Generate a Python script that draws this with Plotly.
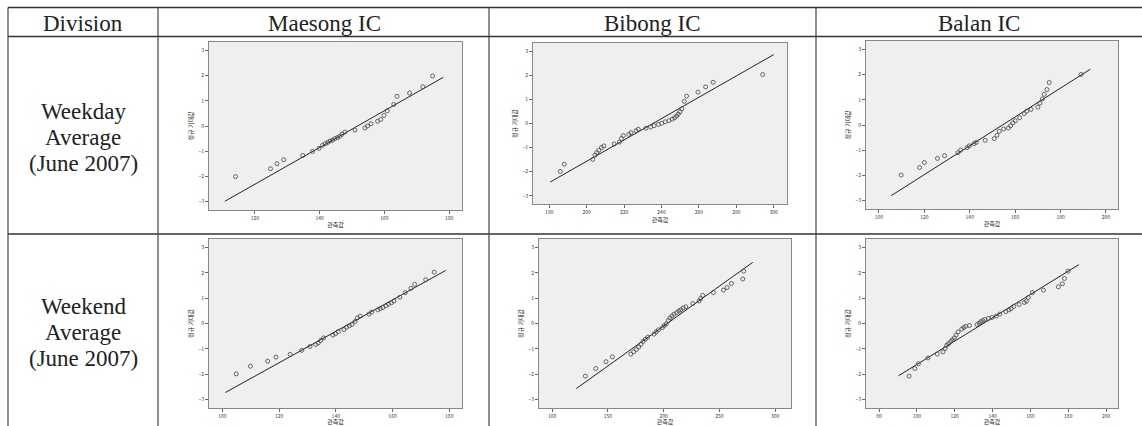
import plotly.graph_objects as go

W, H = 1142, 426

# ---- data ----
col_labels = ["Maesong IC", "Bibong IC", "Balan IC"]
row_labels = [["Weekday", "Average", "(June 2007)"], ["Weekend", "Average", "(June 2007)"]]
header_first = "Division"
x_title = "관측값"
y_title = "정규 기대값"

# Weekday - Maesong
wd_maesong_x = [114, 124.8, 126.8, 128.9, 134.8, 137.8, 139.8, 140.9, 141.8, 142.5, 143.2, 144, 144.7, 145.5, 146.2,
                146.9, 147.8, 150.9, 154, 154.8, 155.9, 157.9, 158.9, 159.9, 160.9, 162.9, 163.9, 167.8, 171.9, 174.9]
wd_maesong_y = [-2.01, -1.70, -1.50, -1.34, -1.17, -1.01, -0.89, -0.77, -0.70, -0.65, -0.60, -0.56, -0.50, -0.46, -0.41,
                -0.33, -0.24, -0.16, -0.08, 0.0, 0.09, 0.19, 0.26, 0.42, 0.60, 0.86, 1.18, 1.31, 1.56, 1.99]
# Weekday - Bibong
wd_bibong_x = [185.9, 188, 203.3, 204.4, 205.4, 206.5, 207.9, 209.2, 214.7, 217.5, 218.6, 219.6, 222.5, 223.7, 226.4,
               227.6, 231.7, 234.2, 236, 238.3, 240.1, 242, 244, 245.8, 247, 248.1, 249, 249.9, 250.9, 252.2,
               253.4, 259.5, 263.6, 267.6, 294.1]
wd_bibong_y = [-1.99, -1.69, -1.49, -1.31, -1.21, -1.11, -1.00, -0.93, -0.85, -0.77, -0.62, -0.50, -0.45, -0.38, -0.30,
               -0.24, -0.19, -0.15, -0.09, -0.04, 0.01, 0.07, 0.12, 0.18, 0.24, 0.31, 0.39, 0.49, 0.61, 0.92,
               1.14, 1.30, 1.52, 1.71, 2.03]
# Weekday - Balan
wd_balan_x = [109.8, 117.9, 120, 125.8, 128.9, 134.8, 136, 138.8, 139.8, 141.9, 142.9, 146.8, 150.8, 152, 153,
              154.9, 157, 158, 159, 160.1, 162, 164, 165.1, 167, 170, 170.9, 172, 172.8, 174, 175, 189]
wd_balan_y = [-1.99, -1.69, -1.49, -1.33, -1.22, -1.10, -1.00, -0.90, -0.83, -0.74, -0.69, -0.61, -0.54, -0.41, -0.25,
              -0.16, -0.12, -0.03, 0.08, 0.17, 0.29, 0.45, 0.55, 0.62, 0.71, 0.87, 1.04, 1.22, 1.41, 1.69, 2.01]
# Weekend - Maesong
we_maesong_x = [104.9, 109.9, 116, 118.9, 123.9, 128, 130.9, 132.9, 133.8, 134.7, 135.7, 139, 139.9, 140.9, 142.9,
                143.8, 144.8, 145.7, 146.8, 147.6, 148.6, 151.7, 152.6, 154.8, 155.7, 156.6, 157.7, 158.6, 159.6,
                160.5, 162.6, 164.5, 166.5, 167.8, 171.7, 174.7]
we_maesong_y = [-1.99, -1.69, -1.49, -1.33, -1.22, -1.06, -0.91, -0.83, -0.77, -0.67, -0.57, -0.46, -0.40, -0.32, -0.24,
                -0.15, -0.09, -0.04, 0.08, 0.22, 0.29, 0.37, 0.45, 0.54, 0.59, 0.63, 0.70, 0.77, 0.82,
                0.89, 1.04, 1.22, 1.39, 1.55, 1.73, 2.03]
# Weekend - Bibong
we_bibong_x = [129.9, 139.2, 148.4, 154.1, 170.6, 173.2, 175.6, 177.7, 179.8, 181.6, 183.7, 185.8, 191.5, 193.3, 195.4,
               199, 200.7, 202.5, 204.3, 205.8, 207.6, 209.4, 211.8, 213.6, 215.4, 217.5, 219.9, 226.2, 231.8,
               233.3, 235.1, 244.7, 253.7, 257, 260.8, 271, 271.9]
we_bibong_y = [-2.08, -1.78, -1.51, -1.32, -1.21, -1.12, -1.03, -0.93, -0.82, -0.71, -0.62, -0.54, -0.42, -0.33, -0.25,
               -0.16, -0.08, -0.01, 0.12, 0.22, 0.30, 0.37, 0.43, 0.49, 0.54, 0.61, 0.66, 0.79, 0.89,
               0.99, 1.11, 1.22, 1.32, 1.42, 1.58, 1.76, 2.07]
# Weekend - Balan
we_balan_x = [95.9, 98.9, 100.8, 105.9, 110.8, 113.8, 114.9, 115.8, 116.8, 117.9, 118.8, 119.8, 120.7, 121.8, 123.7,
              124.8, 125.8, 127.8, 131.8, 132.9, 133.7, 134.8, 135.9, 137.8, 139.7, 141.9, 143.8, 147, 148.7,
              149.8, 151.2, 154, 156.8, 157.9, 158.9, 161.1, 166.9, 174.8, 176.9, 178, 179.9]
we_balan_y = [-2.08, -1.78, -1.59, -1.36, -1.21, -1.12, -0.99, -0.86, -0.79, -0.71, -0.64, -0.57, -0.46, -0.33, -0.22,
              -0.16, -0.11, -0.08, -0.04, 0.01, 0.07, 0.12, 0.16, 0.20, 0.24, 0.29, 0.37, 0.47, 0.54,
              0.59, 0.68, 0.75, 0.83, 0.88, 1.03, 1.22, 1.32, 1.45, 1.57, 1.78, 2.07]

# reference normal lines: mean, sd, and x extent of drawn line
line_mean = [151.7, 235.4, 154.4, 145.0, 203.3, 135.1]
line_sd = [13.7, 22.6, 17.44, 16.1, 31.7, 21.7]
line_xmin = [110.7, 180.5, 105.4, 101.1, 121.8, 90.2]
line_xmax = [178.2, 300.0, 193.1, 178.8, 280.0, 185.6]

# axis ranges and ticks
x_ranges = [[105.8, 184.0], [171.3, 307.1], [94.3, 205.3], [95.3, 184.5], [88.3, 314.3], [73.1, 206.3]]
x_ticks = [[120, 140, 160, 180], [180, 200, 220, 240, 260, 280, 300], [100, 120, 140, 160, 180, 200],
           [100, 120, 140, 160, 180], [100, 150, 200, 250, 300], [80, 100, 120, 140, 160, 180, 200]]
y_ticks = [-3, -2, -1, 0, 1, 2, 3]

xs = [wd_maesong_x, wd_bibong_x, wd_balan_x, we_maesong_x, we_bibong_x, we_balan_x]
ys = [wd_maesong_y, wd_bibong_y, wd_balan_y, we_maesong_y, we_bibong_y, we_balan_y]

# ---- layout geometry (pixels) ----
boxes = [(209, 462, 42, 210), (533, 787, 43, 204), (866, 1118, 41, 209),
         (209, 462, 239, 408), (539, 791, 239, 408), (866, 1118, 239, 408)]


def px(x):
    return x / W


def py(y):
    return 1 - y / H


fig = go.Figure()
layout_axes = {}
for i in range(6):
    n = "" if i == 0 else str(i + 1)
    xa, ya = "x" + n, "y" + n
    x0, x1, y0, y1 = boxes[i]
    lx = [line_xmin[i], line_xmax[i]]
    ly = [(v - line_mean[i]) / line_sd[i] for v in lx]
    fig.add_trace(go.Scatter(x=lx, y=ly, mode="lines", line=dict(color="#222", width=1),
                             xaxis=xa, yaxis=ya, showlegend=False, hoverinfo="skip"))
    fig.add_trace(go.Scatter(x=xs[i], y=ys[i], mode="markers",
                             marker=dict(symbol="circle-open", size=4, color="#444", line=dict(width=0.8)),
                             xaxis=xa, yaxis=ya, showlegend=False))
    layout_axes["xaxis" + n] = dict(
        domain=[px(x0), px(x1)], range=x_ranges[i], anchor=ya, tickvals=x_ticks[i],
        showgrid=False, zeroline=False, showline=True, mirror=True, linecolor="#888", linewidth=1,
        ticks="outside", ticklen=3, tickcolor="#666", tickfont=dict(size=5, color="#333", family="Noto Sans CJK KR"),
        title=dict(text=x_title, font=dict(size=6, color="#222", family="Noto Sans CJK KR"), standoff=2))
    layout_axes["yaxis" + n] = dict(
        domain=[py(y1), py(y0)], range=[-3.34, 3.34], anchor=xa, tickvals=y_ticks,
        showgrid=False, zeroline=False, showline=True, mirror=True, linecolor="#888", linewidth=1,
        ticks="outside", ticklen=3, tickcolor="#666", tickfont=dict(size=5, color="#333", family="Noto Sans CJK KR"),
        title=dict(text=y_title, font=dict(size=6, color="#222", family="Noto Sans CJK KR"), standoff=4))

shapes = []
for i in range(6):
    x0, x1, y0, y1 = boxes[i]
    shapes.append(dict(type="rect", xref="paper", yref="paper", x0=px(x0), x1=px(x1), y0=py(y1), y1=py(y0),
                       fillcolor="#efefef", line=dict(width=0), layer="below"))
# table lines
for yline, w in [(7.5, 1.5), (36.5, 1.5), (234, 1.5)]:
    shapes.append(dict(type="line", xref="paper", yref="paper", x0=px(8), x1=1, y0=py(yline), y1=py(yline),
                       line=dict(color="#333", width=w)))
for xline in [8, 158, 489, 816]:
    shapes.append(dict(type="line", xref="paper", yref="paper", x0=px(xline), x1=px(xline), y0=0, y1=py(7.5),
                       line=dict(color="#444", width=1.2)))

tfont = dict(family="Liberation Serif", size=23, color="#222")
common = dict(xref="paper", yref="paper", showarrow=False, font=tfont, xanchor="center", yanchor="middle")
annotations = [dict(text=header_first, x=px(83), y=py(23), **common)]
for cx, lab in zip([324, 652, 979], col_labels):
    annotations.append(dict(text=lab, x=px(cx), y=py(23), **common))
for centers, lines in zip([[111, 137, 163], [306, 332, 358]], row_labels):
    for cy, lab in zip(centers, lines):
        annotations.append(dict(text=lab, x=px(83), y=py(cy), **common))

fig.update_layout(width=W, height=H, margin=dict(l=0, r=0, t=0, b=0), paper_bgcolor="white",
                  plot_bgcolor="rgba(0,0,0,0)", shapes=shapes, annotations=annotations, **layout_axes)
fig.write_html("out.html", config={"displayModeBar": False},
               post_script="document.body.style.margin='0';document.body.style.padding='0';")
